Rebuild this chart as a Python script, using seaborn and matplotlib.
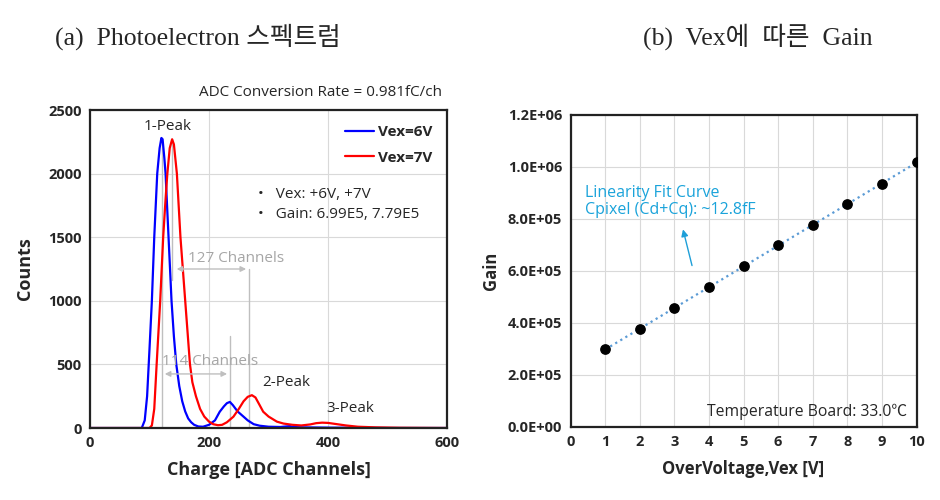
import numpy as np
import pandas as pd
import matplotlib
matplotlib.use('Agg')
import matplotlib.pyplot as plt
from matplotlib.ticker import FuncFormatter
import seaborn as sns

# ---- data ----
ch_6v = [0, 80, 87, 92, 96, 100, 104, 108, 113, 117, 120, 122, 125, 127, 132, 137, 141, 145,
         150, 155, 160, 165, 170, 175, 182, 190, 200, 210, 218, 225, 230, 235, 240, 248, 258,
         265, 275, 285, 300, 320, 336, 340, 360, 400, 450, 500, 600]
counts_6v = [0, 0, 0, 60, 250, 620, 1000, 1500, 2000, 2200, 2280, 2270, 2120, 2000, 1500, 1000, 720, 500,
             330, 210, 130, 75, 45, 25, 12, 10, 25, 60, 128, 170, 195, 205, 180, 130, 89,
             60, 30, 18, 10, 8, 15, 8, 5, 3, 2, 0, 0]

ch_7v = [0, 100, 104, 108, 112, 115, 118, 123, 127, 130, 134, 138, 141, 146, 152, 156, 160, 164,
         168, 172, 178, 185, 192, 200, 207, 215, 222, 230, 241, 250, 258, 265, 272, 278, 285,
         291, 300, 314, 325, 340, 355, 370, 380, 390, 400, 415, 430, 450, 480, 520, 600]
counts_7v = [0, 0, 20, 150, 500, 750, 1000, 1500, 1800, 2000, 2200, 2270, 2230, 2000, 1500, 1250, 1000, 750,
             500, 360, 250, 150, 90, 50, 30, 22, 25, 45, 89, 150, 210, 245, 258, 240, 180,
             128, 90, 50, 35, 25, 20, 28, 38, 42, 40, 30, 20, 10, 5, 2, 0]

peaks_6v = [121, 235]
peaks_7v = [138, 267]

vex = [1, 2, 3, 4, 5, 6, 7, 8, 9, 10]
gain = [2.98e5, 3.77e5, 4.56e5, 5.36e5, 6.19e5, 6.98e5, 7.76e5, 8.56e5, 9.34e5, 1.019e6]

sns.set_style('whitegrid')
plt.rcParams['font.family'] = ['Open Sans', 'Noto Sans CJK KR', 'DejaVu Sans']

spec = pd.concat([
    pd.DataFrame({'ch': ch_6v, 'counts': counts_6v, 'series': 'Vex=6V'}),
    pd.DataFrame({'ch': ch_7v, 'counts': counts_7v, 'series': 'Vex=7V'}),
])

fig = plt.figure(figsize=(9.4, 5), dpi=100)
ax1 = fig.add_axes([0.0957, 0.144, 0.380, 0.636])
ax2 = fig.add_axes([0.607, 0.1466, 0.368, 0.6234])

grid_c = '#D9D9D9'
ann_c = '#BFBFBF'

# ---- (a) spectrum ----
sns.lineplot(data=spec, x='ch', y='counts', hue='series', palette=['#0000FF', '#FF0000'],
             linewidth=1.6, ax=ax1, sort=False)
ax1.set_xlim(0, 600)
ax1.set_ylim(0, 2500)
ax1.set_xticks([0, 200, 400, 600])
ax1.set_yticks(range(0, 2501, 500))
ax1.set_xlabel('Charge [ADC Channels]', fontsize=13, fontweight='bold', labelpad=8)
ax1.set_ylabel('Counts', fontsize=13, fontweight='bold', labelpad=10)
ax1.legend(frameon=False, loc='upper right', prop={'weight': 'bold', 'size': 11},
           handlelength=1.9, handletextpad=0.2, labelspacing=0.75, borderaxespad=0.6)

# peak markers and spacing arrows
ax1.plot([peaks_6v[0]] * 2, [0, 2280], color=ann_c, lw=1, zorder=1)
ax1.plot([peaks_6v[1]] * 2, [0, 720], color=ann_c, lw=1, zorder=1)
ax1.plot([peaks_7v[0]] * 2, [1160, 2270], color=ann_c, lw=1, zorder=1)
ax1.plot([peaks_7v[1]] * 2, [0, 1250], color=ann_c, lw=1, zorder=1)
ax1.annotate('', xy=(peaks_6v[1], 425), xytext=(peaks_6v[0], 425),
             arrowprops=dict(arrowstyle='<|-|>', color=ann_c, lw=1, mutation_scale=8))
ax1.annotate('', xy=(peaks_7v[1], 1250), xytext=(peaks_7v[0] + 3, 1250),
             arrowprops=dict(arrowstyle='<|-|>', color=ann_c, lw=1, mutation_scale=8))
ax1.text(246, 1330, '127 Channels', color='#A6A6A6', fontsize=11, ha='center', va='center')
ax1.text(202, 520, '114 Channels', color='#A6A6A6', fontsize=11, ha='center', va='center')

ax1.text(131, 2370, '1-Peak', fontsize=11, ha='center', va='center')
ax1.text(330, 360, '2-Peak', fontsize=11, ha='center', va='center')
ax1.text(438, 157, '3-Peak', fontsize=11, ha='center', va='center')
ax1.text(0.47, 0.735, '•   Vex: +6V, +7V', transform=ax1.transAxes, fontsize=11, va='center')
ax1.text(0.47, 0.672, '•   Gain: 6.99E5, 7.79E5', transform=ax1.transAxes, fontsize=11, va='center')
ax1.text(0.985, 1.055, 'ADC Conversion Rate = 0.981fC/ch', transform=ax1.transAxes,
         fontsize=11, ha='right', va='center')

# ---- (b) gain vs overvoltage ----
sns.regplot(x=vex, y=gain, ci=None, ax=ax2,
            scatter_kws=dict(color='black', s=45, alpha=1, zorder=3),
            line_kws=dict(color='#5B9BD5', ls=':', lw=1.6, zorder=2))
ax2.set_xlim(0, 10)
ax2.set_ylim(0, 1.2e6)
ax2.set_xticks(range(0, 11))
ax2.set_yticks(np.arange(0, 1.21e6, 2e5))
ax2.yaxis.set_major_formatter(FuncFormatter(lambda v, p: f'{v:.1E}'))
ax2.set_xlabel('OverVoltage,Vex [V]', fontsize=12, fontweight='bold', labelpad=8)
ax2.set_ylabel('Gain', fontsize=12, fontweight='bold', labelpad=6)
ax2.annotate('', xy=(3.23, 7.7e5), xytext=(3.53, 6.1e5),
             arrowprops=dict(arrowstyle='-|>', color='#1E9FD8', lw=1, mutation_scale=10))
ax2.text(0.41, 9.0e5, 'Linearity Fit Curve', color='#1AA3DA', fontsize=11.5, va='center')
ax2.text(0.41, 8.34e5, 'Cpixel (Cd+Cq): ~12.8fF', color='#1AA3DA', fontsize=11.5, va='center')
ax2.text(9.72, 0.58e5, 'Temperature Board: 33.0℃', fontsize=11.3, ha='right', va='center')

for ax in (ax1, ax2):
    ax.grid(True, color=grid_c, lw=0.8)
    ax.tick_params(length=0, labelsize=10.5, pad=6)
    for lab in ax.get_xticklabels() + ax.get_yticklabels():
        lab.set_fontweight('bold')
    for sp in ax.spines.values():
        sp.set_color('#222222')
        sp.set_linewidth(1.6)

# panel captions
cap_font = ['Liberation Serif', 'Noto Sans CJK KR']
fig.text(0.058, 0.926, '(a)  Photoelectron 스펙트럼', fontsize=18.5, family=cap_font, va='center')
fig.text(0.684, 0.926, '(b)  Vex에  따른  Gain', fontsize=18.5, family=cap_font, va='center')

fig.savefig('out.png', dpi=100, facecolor='white')
